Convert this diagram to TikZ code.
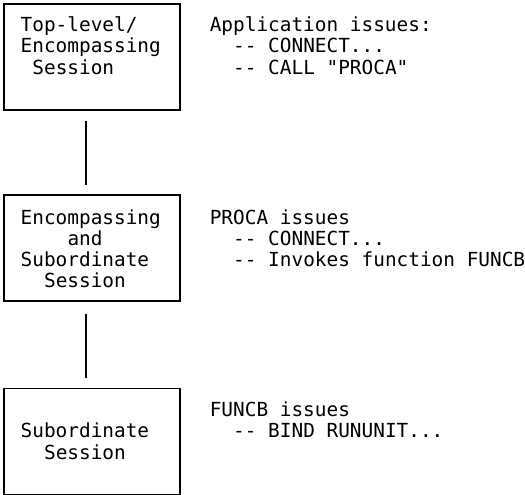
\documentclass[tikz,border=0pt]{standalone}
\usepackage{fontspec}
\setmonofont{DejaVu Sans Mono}
\usetikzlibrary{calc}
\begin{document}
\begin{tikzpicture}[x=1pt,y=-1pt,
  box/.style={draw=black, line width=1.8pt, rectangle, minimum width=176pt,
    minimum height=106pt, inner sep=0pt, anchor=north west},
  txt/.style={anchor=base west, inner sep=0pt,
    font=\ttfamily\fontsize{19.4}{21.6}\selectfont},
  link/.style={draw=black, line width=1.5pt}]
\useasboundingbox (0,0) rectangle (525,495);

% session boxes
\node[box] (top) at (3,3) {};
\node[box] (mid) at (3,194) {};
\node[box] (sub) at (3,387.5) {};

% links between the sessions
\draw[link] ($(top.south)+(-6,10)$) -- ($(mid.north)+(-6,-9)$);
\draw[link] ($(mid.south)+(-6,12)$) -- ($(sub.north)+(-6,-9.5)$);

% box labels
\node[txt] (top1) at (20.5,31.5) {Top-level/};
\node[txt] (top2) at (20.5,53) {Encompassing};
\node[txt] (top3) at (32.2,74.5) {Session};

\node[txt] (mid1) at (20.5,224) {Encompassing};
\node[txt] (mid2) at (67.3,245) {and};
\node[txt] (mid3) at (20.5,266) {Subordinate};
\node[txt] (mid4) at (43.9,287) {Session};

\node[txt] (sub1) at (20.5,437.5) {Subordinate};
\node[txt] (sub2) at (43.9,459) {Session};

% what each session issues
\node[txt] (app1) at (209.6,31.5) {Application issues:};
\node[txt] (app2) at (233,53) {-{}- CONNECT...};
\node[txt] (app3) at (233,74.5) {-{}- CALL "PROCA"};

\node[txt] (pra1) at (209.6,224) {PROCA issues};
\node[txt] (pra2) at (233,245) {-{}- CONNECT...};
\node[txt] (pra3) at (233,266) {-{}- Invokes function FUNCB};

\node[txt] (fnb1) at (209.6,416) {FUNCB issues};
\node[txt] (fnb2) at (233,437.5) {-{}- BIND RUNUNIT...};
\end{tikzpicture}
\end{document}
